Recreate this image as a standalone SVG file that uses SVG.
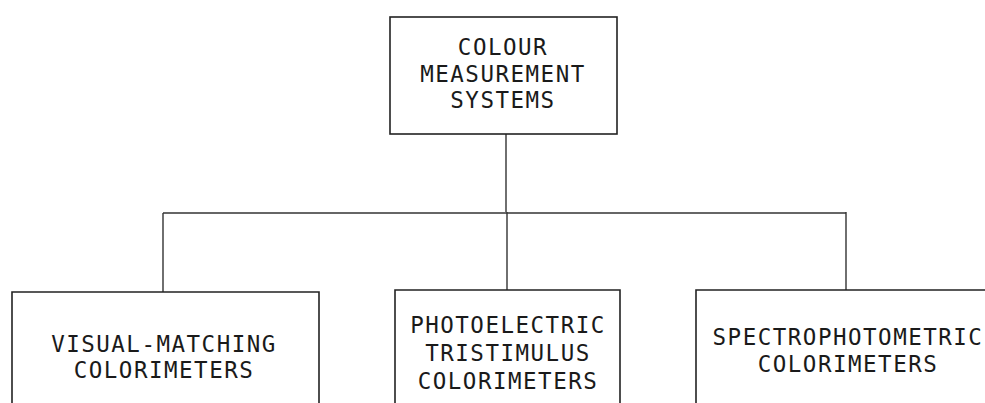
<svg xmlns="http://www.w3.org/2000/svg" width="985" height="403" viewBox="0 0 985 403">
<style>
.box{fill:none;stroke:#222;stroke-width:1.6}
.ln{fill:none;stroke:#333;stroke-width:1.4}
text{font-family:"DejaVu Sans Mono","Liberation Mono",monospace;font-size:22.5px;letter-spacing:1.5px;fill:#1a1a1a;text-anchor:middle}
</style>
<rect width="985" height="403" fill="#fff"/>
<g id="connectors">
<path class="ln" d="M506 134 V212"/>
<path class="ln" d="M163 213 H846"/>
<path class="ln" d="M163 213 V292"/>
<path class="ln" d="M507 212 V290"/>
<path class="ln" d="M846 212 V290"/>
</g>
<g id="root">
<rect class="box" x="390" y="17" width="227" height="117"/>
<text x="503" y="55">COLOUR</text>
<text x="503" y="82">MEASUREMENT</text>
<text x="503" y="108">SYSTEMS</text>
</g>
<g id="visual">
<path class="box" d="M12 403 V292 H319 V403"/>
<text x="164" y="352">VISUAL-MATCHING</text>
<text x="164" y="378">COLORIMETERS</text>
</g>
<g id="photoelectric">
<path class="box" d="M395 403 V290 H620 V403"/>
<text x="508" y="333">PHOTOELECTRIC</text>
<text x="508" y="361">TRISTIMULUS</text>
<text x="508" y="389">COLORIMETERS</text>
</g>
<g id="spectro">
<path class="box" d="M696 403 V290 H985"/>
<text x="848" y="345">SPECTROPHOTOMETRIC</text>
<text x="848" y="372">COLORIMETERS</text>
</g>
</svg>
